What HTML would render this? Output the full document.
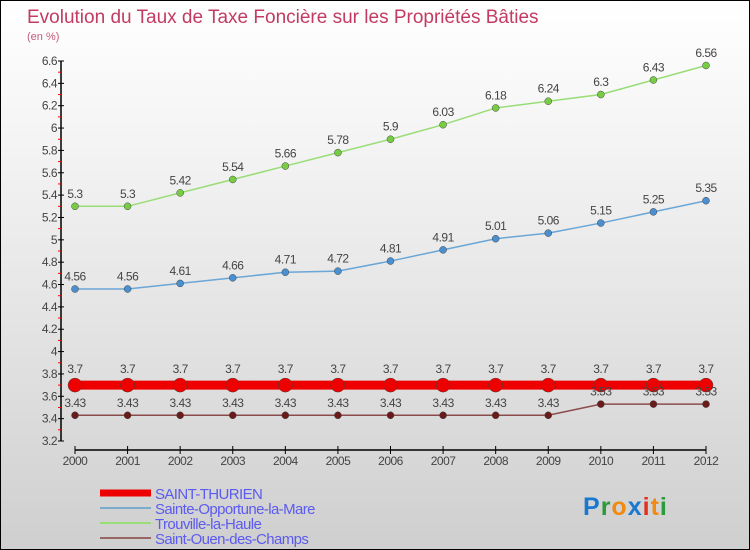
<!DOCTYPE html>
<html><head><meta charset="utf-8"><style>
body{margin:0}
#c{width:750px;height:550px;position:relative;box-sizing:border-box;border:1px solid #000;background:linear-gradient(#fff,#f2f2f2 30%,#cfcfcf);font-family:"Liberation Sans",sans-serif;overflow:hidden}
</style></head><body>
<div id="c">
<svg id="s" width="750" height="550" style="position:absolute;left:-1px;top:-1px">
<text x="27" y="23" font-size="19" fill="#c33a62">Evolution du Taux de Taxe Foncière sur les Propriétés Bâties</text>
<text x="27" y="40" font-size="11" fill="#c55a7a">(en %)</text>
<g id="g"></g>
</svg>
</div>
<script>
const years=[2000,2001,2002,2003,2004,2005,2006,2007,2008,2009,2010,2011,2012];
const stThurien=[3.7,3.7,3.7,3.7,3.7,3.7,3.7,3.7,3.7,3.7,3.7,3.7,3.7];
const steOpportune=[4.56,4.56,4.61,4.66,4.71,4.72,4.81,4.91,5.01,5.06,5.15,5.25,5.35];
const trouville=[5.3,5.3,5.42,5.54,5.66,5.78,5.9,6.03,6.18,6.24,6.3,6.43,6.56];
const stOuen=[3.43,3.43,3.43,3.43,3.43,3.43,3.43,3.43,3.43,3.43,3.53,3.53,3.53];
const yTicks=[3.2,3.4,3.6,3.8,4,4.2,4.4,4.6,4.8,5,5.2,5.4,5.6,5.8,6,6.2,6.4,6.6];
const yTickLabels=["3.2","3.4","3.6","3.8","4","4.2","4.4","4.6","4.8","5","5.2","5.4","5.6","5.8","6","6.2","6.4","6.6"];
const NS="http://www.w3.org/2000/svg";
const g=document.getElementById('g');
const X=i=>75+i*(706-75)/(years.length-1);
const Y=v=>441-(v-3.2)/(6.6-3.2)*380;
function mk(t,a,p){const e=document.createElementNS(NS,t);for(const k in a)e.setAttribute(k,a[k]);(p||g).appendChild(e);return e;}
// y axis
let ya=mk('line',{x1:61,y1:Y(6.6),x2:61,y2:Y(3.2),stroke:'#000','stroke-width':1.5});


yTicks.forEach((v,i)=>{
 mk('line',{x1:58,y1:Y(v),x2:64,y2:Y(v),stroke:'#000'});
 if(i<yTicks.length-1){mk('line',{x1:58,y1:Y(v+0.1),x2:61,y2:Y(v+0.1),stroke:'#f00'});}
 const t=mk('text',{x:57,y:Y(v)+4,'font-size':12,fill:'#444','text-anchor':'end','letter-spacing':'-0.5'});
 t.textContent=yTickLabels[i];
 
 
});
// x axis
let xa=mk('line',{x1:X(0),y1:450,x2:X(years.length-1),y2:450,stroke:'#000','stroke-width':1.5});


years.forEach((y,i)=>{
 mk('line',{x1:X(i),y1:446,x2:X(i),y2:454,stroke:'#000'});
 const t=mk('text',{x:X(i),y:465,'font-size':12,fill:'#444','text-anchor':'middle','letter-spacing':'-0.5'});
 t.textContent=y;
 
 
});
function series(vals,color,w,r,name,dotColor){
 const pts=vals.map((v,i)=>X(i)+','+Y(v)).join(' ');
 const l=mk('polyline',{points:pts,fill:'none',stroke:color,'stroke-width':w});
 
 
 vals.forEach((v,i)=>{
  const c=mk('circle',{cx:X(i),cy:Y(v),r:r,fill:dotColor,stroke:'#444','stroke-width':0.5});
  
  
  const t=mk('text',{x:X(i),y:Y(v)-(r+5),'font-size':12,fill:'#444','text-anchor':'middle','letter-spacing':'-0.5'});
  t.textContent=String(v);
  
  
 });
}
series(trouville,'#99dd77',1.5,3.5,'trouville','#77cc44');
series(steOpportune,'#6aa6d6',1.5,3.5,'sainte-opportune','#4a8fd0');
series(stThurien,'#ee0000',9,7,'saint-thurien','#ee0000');
series(stOuen,'#8b4b4b',1.5,3.5,'saint-ouen','#6b1a1a');
// legend
const leg=[['SAINT-THURIEN','#ee0000',7],['Sainte-Opportune-la-Mare','#7aaccc',2],['Trouville-la-Haule','#99dd77',2],['Saint-Ouen-des-Champs','#996666',2]];
leg.forEach((d,i)=>{
 const y=493+i*15;
 const l=mk('line',{x1:100,y1:y,x2:151,y2:y,stroke:d[1],'stroke-width':d[2]});
 
 
 const t=mk('text',{x:155,y:y+6,'font-size':15,fill:'#5b5bf0','letter-spacing':'-0.6'});
 t.textContent=d[0];
 
 
});
// logo
const lg=mk('text',{x:583,y:515,'font-size':25,'font-weight':'bold','letter-spacing':'1'});


[['P','#1a78d0'],['r','#2a9a3a'],['o','#f08a10'],['x','#1a78d0'],['i','#e03020'],['t','#f08a10'],['i','#2a9a3a']].forEach(([c,col])=>{const s=mk('tspan',{fill:col},lg);s.textContent=c;});
</script>
</body></html>
